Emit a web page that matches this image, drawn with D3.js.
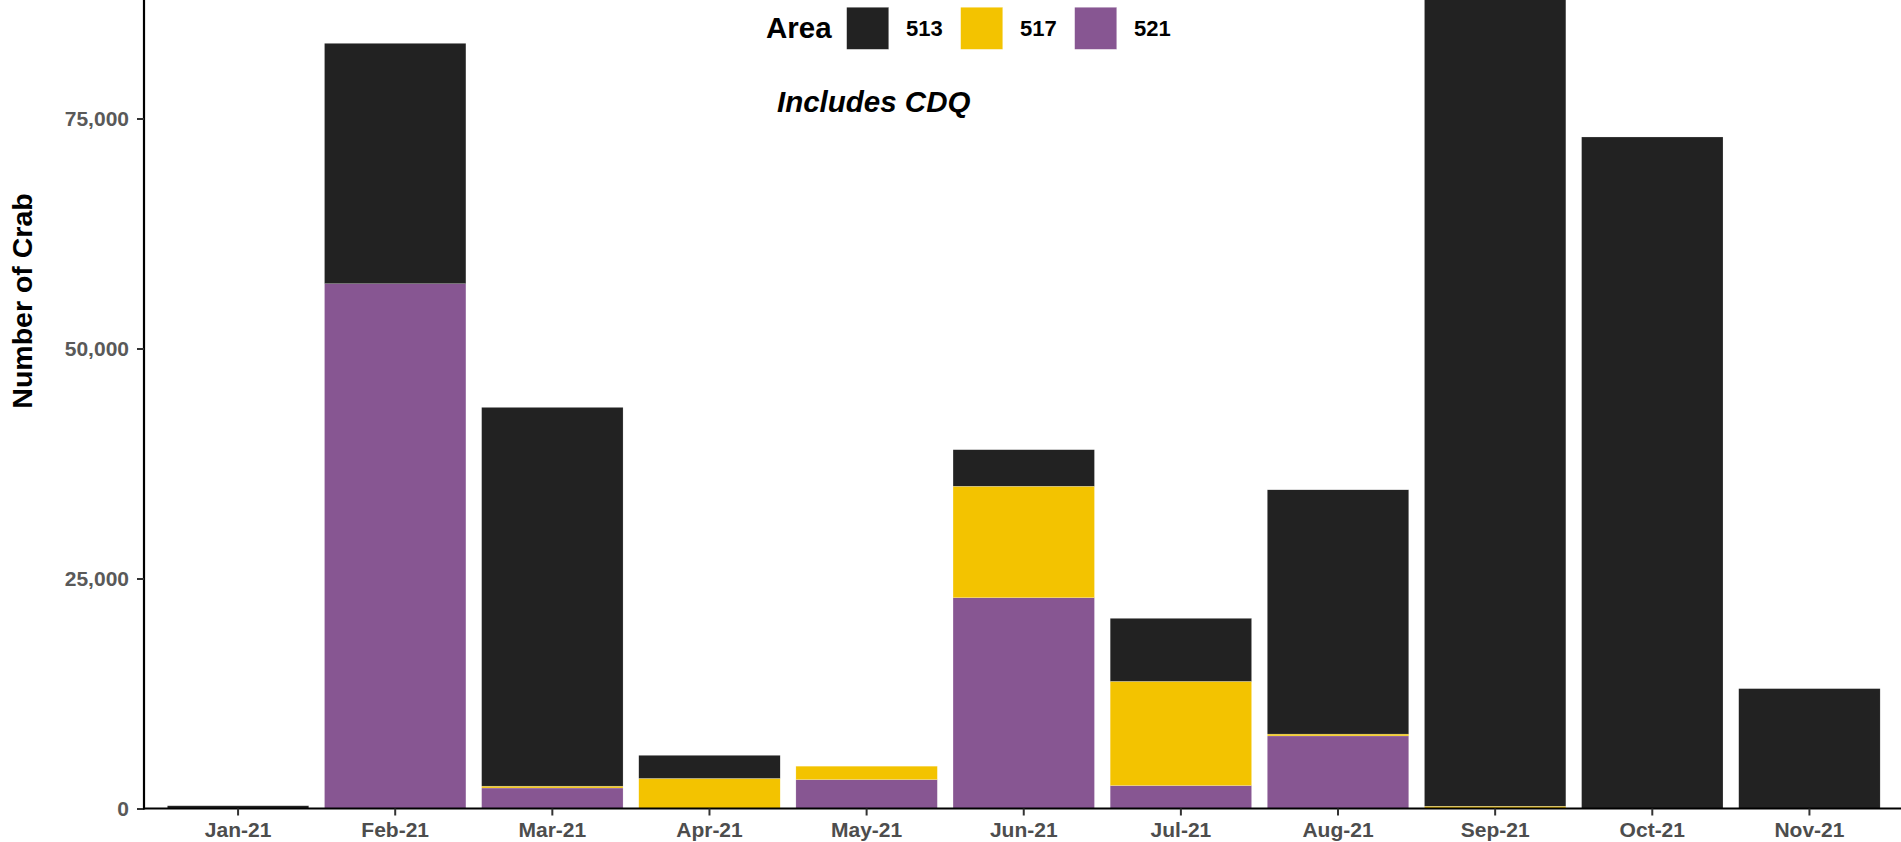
<!DOCTYPE html>
<html>
<head>
<meta charset="utf-8">
<script src="https://cdn.jsdelivr.net/npm/d3@7"></script>
<style>
  html, body { margin: 0; padding: 0; background: #ffffff; }
  svg { display: block; font-family: "Liberation Sans", Arial, sans-serif; }
</style>
</head>
<body>
<svg id="chart" width="1901" height="842"></svg>
<script>
const months = ["Jan-21","Feb-21","Mar-21","Apr-21","May-21","Jun-21","Jul-21","Aug-21","Sep-21","Oct-21","Nov-21"];
const areas = ["513","517","521"];
const area513 = [300, 26130, 41170, 2510, 0, 3970, 6850, 26550, 92000, 72990, 13030];
const area517 = [0, 0, 200, 3270, 1460, 12120, 11330, 200, 250, 0, 0];
const area521 = [0, 57040, 2230, 0, 3140, 22910, 2490, 7890, 0, 0, 0];
const yTicks = [0, 25000, 50000, 75000];
const colors = { "513": "#222222", "517": "#F3C300", "521": "#875692" };
const yTitle = "Number of Crab";
const legendTitle = "Area";
const note = "Includes CDQ";

(function () {
const svg = d3.select("#chart");
const plotLeft = 144, plotRight = 1901, plotTop = 0, plotBottom = 808.5;

const rows = months.map((m, i) => ({ month: m, "513": area513[i], "517": area517[i], "521": area521[i] }));
const stack = d3.stack().keys(["521", "517", "513"]);
const series = stack(rows);

const x = d3.scaleBand().domain(months).range([159.5, 1888]).paddingInner(0.1).paddingOuter(0.05);
const y = d3.scaleLinear().domain([0, 87880]).range([plotBottom, plotTop]);

svg.append("clipPath").attr("id", "plotclip")
  .append("rect").attr("x", plotLeft).attr("y", 0).attr("width", plotRight - plotLeft).attr("height", plotBottom);

const g = svg.append("g").attr("clip-path", "url(#plotclip)");
g.selectAll("g.series").data(series).join("g")
  .attr("class", "series")
  .attr("fill", d => colors[d.key])
  .selectAll("rect").data(d => d.filter(p => p[1] - p[0] > 0)).join("rect")
  .attr("x", d => x(d.data.month))
  .attr("width", x.bandwidth())
  .attr("y", d => y(d[1]))
  .attr("height", d => y(d[0]) - y(d[1]))
  .attr("stroke", "#ffffff")
  .attr("stroke-width", 0.4)
  .attr("stroke-opacity", 0.5);

// y axis
const yAxis = svg.append("g").attr("transform", `translate(${plotLeft},0)`)
  .call(d3.axisLeft(y).tickValues(yTicks).tickFormat(d3.format(",")).tickSize(7).tickPadding(8));
yAxis.select(".domain").attr("d", `M0,0V${plotBottom + 1}`).attr("stroke", "#000").attr("stroke-width", 2.2);
yAxis.selectAll(".tick line").attr("stroke", "#333").attr("stroke-width", 2);
yAxis.selectAll(".tick text").attr("fill", "#595959").attr("font-size", 21).attr("font-weight", "bold")
  .attr("font-family", "'Liberation Sans', Arial, sans-serif");

// x axis
const xAxis = svg.append("g").attr("transform", `translate(0,${plotBottom})`)
  .call(d3.axisBottom(x).tickSize(7).tickPadding(7));
xAxis.select(".domain").attr("d", `M${plotLeft - 1},0H${plotRight}`).attr("stroke", "#000").attr("stroke-width", 2.2);
xAxis.selectAll(".tick line").attr("stroke", "#333").attr("stroke-width", 2);
xAxis.selectAll(".tick text").attr("fill", "#4d4d4d").attr("font-size", 21).attr("font-weight", "bold")
  .attr("font-family", "'Liberation Sans', Arial, sans-serif");

// y title
svg.append("text")
  .attr("transform", "translate(32,301) rotate(-90)")
  .attr("text-anchor", "middle")
  .attr("font-size", 28.5).attr("font-weight", "bold").attr("fill", "#000")
  .text(yTitle);

// legend
const lg = svg.append("g");
lg.append("text").attr("x", 766).attr("y", 37.5).attr("font-size", 29.5).attr("font-weight", "bold")
  .attr("fill", "#000").text(legendTitle);
const keyX = [846.7, 960.7, 1074.7];
areas.forEach((a, i) => {
  lg.append("rect").attr("x", keyX[i]).attr("y", 7.3).attr("width", 42).attr("height", 42)
    .attr("fill", colors[a]).attr("stroke", "#ffffff").attr("stroke-width", 0.4).attr("stroke-opacity", 0.5);
  lg.append("text").attr("x", keyX[i] + 59.3).attr("y", 36).attr("font-size", 22).attr("font-weight", "bold")
    .attr("fill", "#000").text(a);
});

// note
svg.append("text").attr("x", 777).attr("y", 111.5)
  .attr("font-size", 29.5).attr("font-weight", "bold").attr("font-style", "italic").attr("fill", "#000")
  .text(note);
})();
</script>
</body>
</html>
